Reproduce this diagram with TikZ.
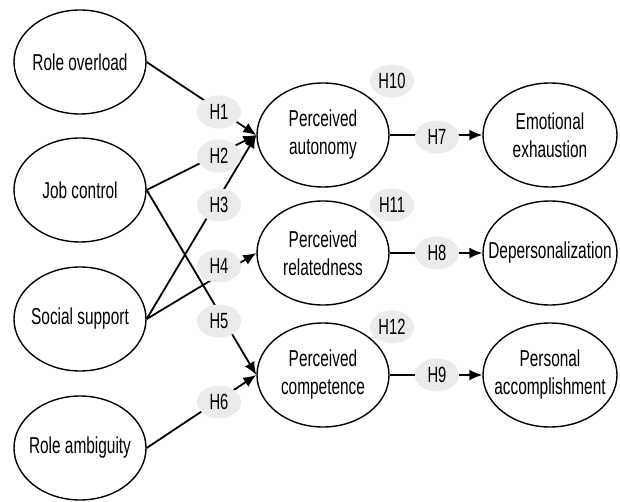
\documentclass[tikz,border=0pt]{standalone}
\usepackage{fontspec}
\setmainfont{Liberation Sans}[FakeStretch=0.67]
\usetikzlibrary{shapes.geometric,arrows.meta}
\begin{document}
\begin{tikzpicture}[x=1pt,y=-1pt,
  font=\fontsize{23}{28}\selectfont,
  construct/.style={ellipse,draw,line width=1.4pt,minimum width=132pt,minimum height=104pt,inner sep=0pt},
  txt/.style={label={[align=center,inner sep=0pt]center:#1}},
  hyp/.style={ellipse,fill=black!8,minimum width=44pt,minimum height=33pt,inner sep=0pt,font=\fontsize{22}{24}\selectfont},
  link/.style={line width=1.8pt,-{Latex[length=13pt,width=11pt]}}]
\useasboundingbox (0,0) rectangle (620,502);
% left constructs
\node[construct,txt={Role overload}] (ro) at (80,62) {};
\node[construct,txt={Job control}] (jc) at (80,190) {};
\node[construct,txt={Social support}] (ss) at (80,319) {};
\node[construct,txt={Role ambiguity}] (ra) at (80,448) {};
% middle constructs
\node[construct,txt={Perceived\\autonomy}] (pa) at (323,135) {};
\node[construct,txt={Perceived\\relatedness}] (pr) at (323,253) {};
\node[construct,txt={Perceived\\competence}] (pc) at (323,375) {};
% right constructs
\node[construct,minimum width=134pt,txt={Emotional\\exhaustion}] (ee) at (550,135) {};
\node[construct,minimum width=134pt,txt={Depersonalization}] (dp) at (550,253) {};
\node[construct,minimum width=134pt,txt={Personal\\accomplishment}] (pac) at (550,375) {};
% connectors
\draw[link] (ro.east) -- (pa.west);
\draw[link] (jc.east) -- (pa.west);
\draw[link] (ss.east) -- (pa.west);
\draw[link] (ss.east) -- (pr.west);
\draw[link] (jc.east) -- (pc.west);
\draw[link] (ra.east) -- (pc.west);
\draw[link] (pa.east) -- (ee.west);
\draw[link] (pr.east) -- (dp.west);
\draw[link] (pc.east) -- (pac.west);
% hypothesis labels
\node[hyp] (h1) at (219,112) {H1};
\node[hyp] (h2) at (219,156) {H2};
\node[hyp] (h3) at (219,205) {H3};
\node[hyp] (h4) at (219,266) {H4};
\node[hyp] (h5) at (219,321) {H5};
\node[hyp] (h6) at (219,402) {H6};
\node[hyp] (h7) at (437,137) {H7};
\node[hyp] (h8) at (437,253) {H8};
\node[hyp] (h9) at (437,375) {H9};
\node[hyp] (h10) at (392,81) {H10};
\node[hyp] (h11) at (392,205) {H11};
\node[hyp] (h12) at (392,327) {H12};
\end{tikzpicture}
\end{document}
